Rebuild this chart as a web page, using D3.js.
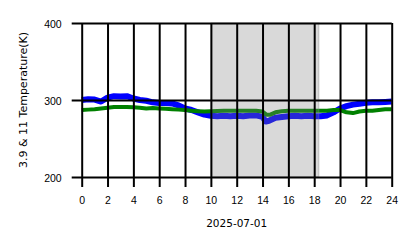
<!DOCTYPE html>
<html>
<head>
<meta charset="utf-8">
<script src="https://cdn.jsdelivr.net/npm/d3@7"></script>
<style>
  body { margin: 0; background: #fff; }
  svg { display: block; font-family: "DejaVu Sans", sans-serif; }
</style>
</head>
<body>
<script>
// hours of the day and temperatures (K)
var blueHours = [0,0.5,1,1.5,2,2.5,3,3.5,4,4.5,5,5.5,6,6.5,7,7.5,8,8.5,9,9.5,10,10.5,11,11.5,12,12.5,13,13.5,14,14.25,14.5,15,15.5,16,16.5,17,17.5,18,18.5,19,19.5,20,20.5,21,21.5,22,22.5,23,23.5,24];
var blueTemp = [300,301,300.5,298,303,305,304.5,305,302,300,299,297,296,296,295.5,293,289,287,284,281,279.5,279,279.5,279,279.5,279,280,280,278,272,273,277,278,279,279.5,279,279.5,279,279,280,284,289,292,294,295,296.5,297,297,297.5,298];

var greenHours = [0,0.5,1,1.5,2,2.5,3,3.5,4,4.5,5,5.5,6,6.5,7,7.5,8,8.5,9,9.5,10,11,12,13,13.5,14,14.3,14.6,15,15.5,16,17,18,19,19.5,20,20.5,21,21.5,22,22.5,23,23.5,24];
var greenTemp = [287,287.5,288,289,290,291,291,291,290.5,290,289,289.5,289,288.5,288,287.5,287,286,285.5,285,285.5,286,286,286,286,285,281,281,284,285.5,286,286,286,286,287,287,284,283,285,286,286,287,288,288];

var xTicks = [0,2,4,6,8,10,12,14,16,18,20,22,24];
var yTicks = [200,300,400];
var shade = [10.05, 18.35];

var width = 418, height = 248;

var x = d3.scaleLinear().domain([0, 24]).range([81.7, 391.7]);
var y = d3.scaleLinear().domain([200, 400]).range([177, 23]);

var svg = d3.select("body").append("svg")
    .attr("width", width)
    .attr("height", height);

var line = d3.line()
    .x(function(d){ return x(d[0]); })
    .y(function(d){ return y(d[1]); });

// temperature lines
svg.append("path")
    .attr("d", line(d3.zip(blueHours, blueTemp)))
    .attr("fill", "none")
    .attr("stroke", "#0000ff")
    .attr("stroke-width", 6)
    .attr("stroke-linejoin", "round");

svg.append("path")
    .attr("d", line(d3.zip(greenHours, greenTemp)))
    .attr("fill", "none")
    .attr("stroke", "#008000")
    .attr("stroke-width", 4)
    .attr("stroke-linejoin", "round");

// shaded span on top
svg.append("rect")
    .attr("x", x(shade[0]))
    .attr("y", y(400))
    .attr("width", x(shade[1]) - x(shade[0]))
    .attr("height", y(200) - y(400))
    .attr("fill", "gray")
    .attr("fill-opacity", 0.3)
    .attr("stroke", "gray")
    .attr("stroke-opacity", 0.3)
    .attr("stroke-width", 1.5);

// axes with gridlines
var xAxis = d3.axisBottom(x).tickValues(xTicks).tickSize(-(y(200) - y(400)) - 10).tickFormat(d3.format("d"));
var yAxis = d3.axisLeft(y).tickValues(yTicks).tickSize(-(x(24) - x(0)) - 10);

var gx = svg.append("g")
    .attr("transform", "translate(0," + (y(200) + 10) + ")")
    .call(xAxis);
var gy = svg.append("g")
    .attr("transform", "translate(" + (x(0) - 10) + ",0)")
    .call(yAxis);

[gx, gy].forEach(function(g){
  g.select(".domain").remove();
  g.selectAll(".tick line").attr("stroke", "#000").attr("stroke-width", 2);
  g.selectAll(".tick text").attr("fill", "#000").style("font-size", "10.5px");
});
gx.selectAll(".tick text").attr("y", 10);
gy.selectAll(".tick text").attr("x", -10).attr("dy", "0.42em");

svg.append("text")
    .attr("x", x(12))
    .attr("y", 227)
    .attr("text-anchor", "middle")
    .style("font-size", "10.5px")
    .text("2025-07-01");

svg.append("text")
    .attr("transform", "translate(27," + y(300) + ") rotate(-90)")
    .attr("text-anchor", "middle")
    .style("font-size", "11px")
    .text("3.9 & 11 Temperature(K)");
</script>
</body>
</html>
